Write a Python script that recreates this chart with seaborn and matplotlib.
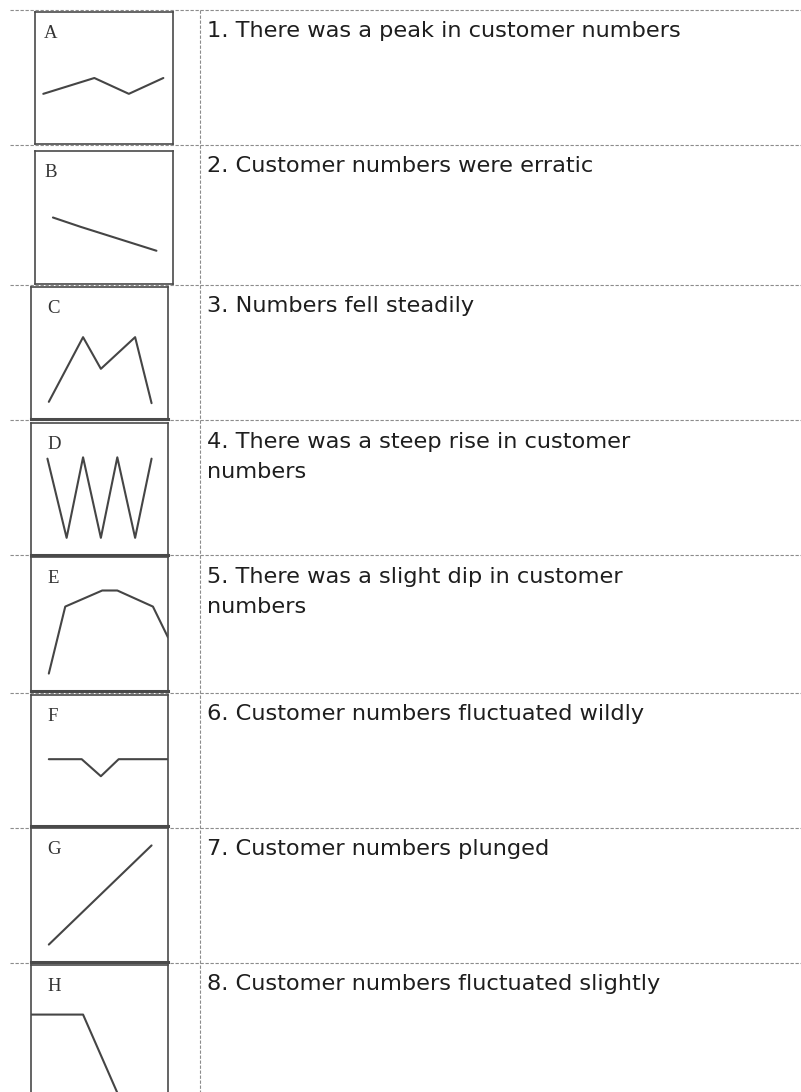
# sparkline matching table

import matplotlib
matplotlib.use("Agg")
import matplotlib.pyplot as plt
import seaborn as sns

sns.set_style("white")
plt.rcParams['font.family'] = ['DejaVu Sans']

letters = ["A", "B", "C", "D", "E", "F", "G", "H"]

descriptions = [
    "1. There was a peak in customer numbers",
    "2. Customer numbers were erratic",
    "3. Numbers fell steadily",
    "4. There was a steep rise in customer\nnumbers",
    "5. There was a slight dip in customer\nnumbers",
    "6. Customer numbers fluctuated wildly",
    "7. Customer numbers plunged",
    "8. Customer numbers fluctuated slightly",
]

# shape of each little graph, read on a 0-10 scale inside its box
a_x = [0.6, 4.3, 6.8, 9.3]
a_y = [3.8, 5.0, 3.8, 5.0]
b_x = [1.3, 3.3, 8.8]
b_y = [5.0, 4.3, 2.5]
c_x = [1.3, 3.8, 5.1, 7.6, 8.8]
c_y = [1.3, 6.2, 3.8, 6.2, 1.2]
d_x = [1.2, 2.6, 3.8, 5.1, 6.3, 7.6, 8.8]
d_y = [7.3, 1.3, 7.4, 1.3, 7.4, 1.3, 7.3]
e_x = [1.3, 2.5, 5.2, 6.3, 8.9, 10.0]
e_y = [1.3, 6.3, 7.5, 7.5, 6.3, 4.0]
f_x = [1.3, 3.7, 5.1, 6.4, 10.0]
f_y = [5.1, 5.1, 3.8, 5.1, 5.1]
g_x = [1.3, 8.8]
g_y = [1.3, 8.7]
h_x = [0.0, 3.8, 6.5]
h_y = [6.3, 6.3, 0.0]

series = [(a_x, a_y), (b_x, b_y), (c_x, c_y), (d_x, d_y),
          (e_x, e_y), (f_x, f_y), (g_x, g_y), (h_x, h_y)]

# layout in pixels
W, H = 801, 1092
row_tops = [10, 145, 285, 420, 555, 693, 828, 963]
col_x = 200
box_left = [35, 35, 31, 31, 31, 31, 31, 31]
box_right = [173, 173, 168, 168, 168, 168, 168, 168]
box_top = [12, 151, 287, 423, 557, 695, 828, 965]
box_bottom = [144, 284, 419, 555, 691, 826, 962, 1099]
letter_dx = [9, 9, 16, 16, 16, 16, 16, 16]
line_gap = 31

line_col = "#454545"
grid_col = "#8c8c8c"

fig = plt.figure(figsize=(W / 100, H / 100), dpi=100)

bg = fig.add_axes([0, 0, 1, 1])
bg.set_xlim(0, W)
bg.set_ylim(H, 0)
bg.axis("off")
bg.hlines(row_tops, 10, W, colors=grid_col, linewidth=0.8, linestyles=(0, (3, 1.5)))
bg.vlines(col_x, row_tops[0], H, colors=grid_col, linewidth=0.8, linestyles=(0, (3, 1.5)))

for top, txt in zip(row_tops, descriptions):
    n = txt.count("\n")
    # baseline alignment sits on the last line
    bg.text(207, top + 27 + n * line_gap, txt, fontsize=16.2, color="#1e1e1e",
            va="baseline", ha="left", linespacing=1.6)

for i, (xs, ys) in enumerate(series):
    l, r, t, b = box_left[i], box_right[i], box_top[i], box_bottom[i]
    ax = fig.add_axes([l / W, 1 - b / H, (r - l) / W, (b - t) / H])
    ax.set_facecolor("white")
    sns.lineplot(x=xs, y=ys, ax=ax, color=line_col, linewidth=1.5)
    ax.set_xlim(0, 10)
    ax.set_ylim(0, 10)
    ax.set_xticks([])
    ax.set_yticks([])
    for name, sp in ax.spines.items():
        sp.set_visible(True)
        sp.set_color("#4a4a4a")
        sp.set_linewidth(1.2)
    if i >= 2:
        ax.spines["bottom"].set_linewidth(2.2)
    ax.annotate(letters[i], xy=(0, 1), xycoords="axes fraction",
                xytext=(letter_dx[i], -26), textcoords="offset pixels",
                va="baseline", ha="left", fontsize=13.5, color="#333333",
                family=["Liberation Serif", "DejaVu Serif"])

fig.savefig("out.png", dpi=100)
